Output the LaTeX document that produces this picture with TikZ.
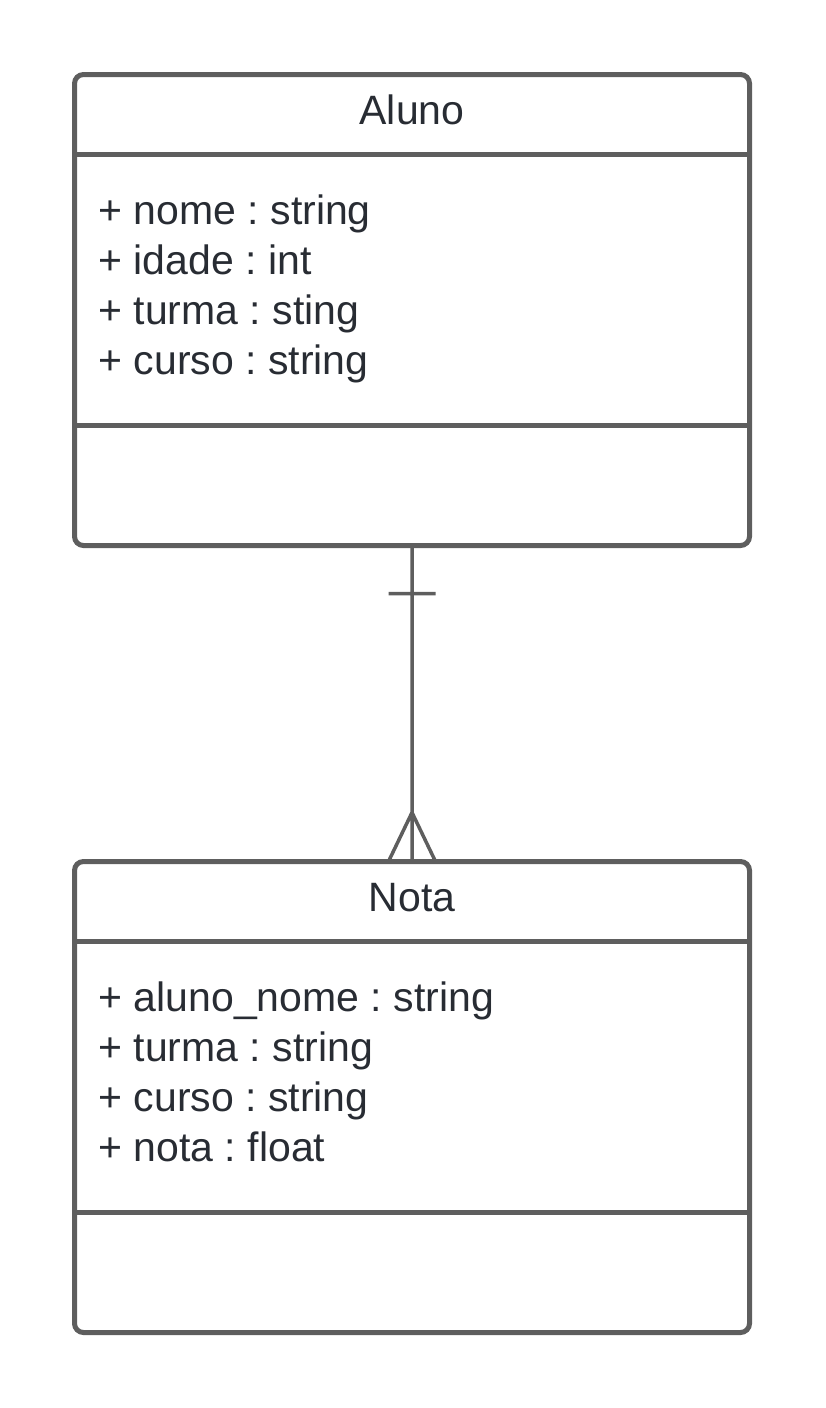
\documentclass[tikz,border=0pt]{standalone}
\usepackage{fontspec}
\setmainfont{Liberation Sans}
\usetikzlibrary{positioning}
\frenchspacing

\definecolor{umlline}{HTML}{5E5E5E}
\definecolor{umltext}{HTML}{282C33}

\begin{document}
\begin{tikzpicture}[x=1pt, y=-1pt, outer sep=0pt,
    classbox/.style={draw=umlline, line width=5pt, rounded corners=9pt,
        minimum width=675pt, minimum height=471pt, inner sep=0pt},
    classname/.style={anchor=base, text=umltext, inner sep=0pt,
        font=\fontsize{41}{50}\selectfont},
    attrs/.style={anchor=north west, align=left, text=umltext, inner sep=0pt,
        font=\fontsize{41}{50}\selectfont},
    sepline/.style={draw=umlline, line width=5pt},
    relline/.style={draw=umlline, line width=3.5pt}]
    \useasboundingbox (0,0) rectangle (825,1408);

    \node[classbox] (aluno) at (412,310) {};
    \node[classbox] (nota) [below=316pt of aluno] {};

    % class names
    \node[classname] (alunoname) at ([yshift=-50pt]aluno.north) {Aluno};
    \node[classname] (notaname) at ([yshift=-50pt]nota.north) {Nota};

    % attributes
    \node[attrs] (alunoattrs) at ([shift={(24,120)}]aluno.north west)
        {+ nome : string\\+ idade : int\\+ turma : sting\\+ curso : string};
    \node[attrs] (notaattrs) at ([shift={(24,120)}]nota.north west)
        {+ aluno\_nome : string\\+ turma : string\\+ curso : string\\+ nota : float};

    % compartments
    \path[sepline]
        ([yshift=-80pt]aluno.north west) -- ([yshift=-80pt]aluno.north east)
        ([yshift=-351pt]aluno.north west) -- ([yshift=-351pt]aluno.north east)
        ([yshift=-80pt]nota.north west) -- ([yshift=-80pt]nota.north east)
        ([yshift=-351pt]nota.north west) -- ([yshift=-351pt]nota.north east);

    % one-to-many relation
    \coordinate (one) at ([yshift=-48pt]aluno.south);
    \coordinate (many) at ([yshift=49pt]nota.north);
    \path[relline] (aluno.south) -- (nota.north)
        ([xshift=-23.5pt]one) -- ([xshift=23.5pt]one)
        ([xshift=-23.5pt]nota.north) -- (many) -- ([xshift=23.5pt]nota.north);
\end{tikzpicture}
\end{document}
